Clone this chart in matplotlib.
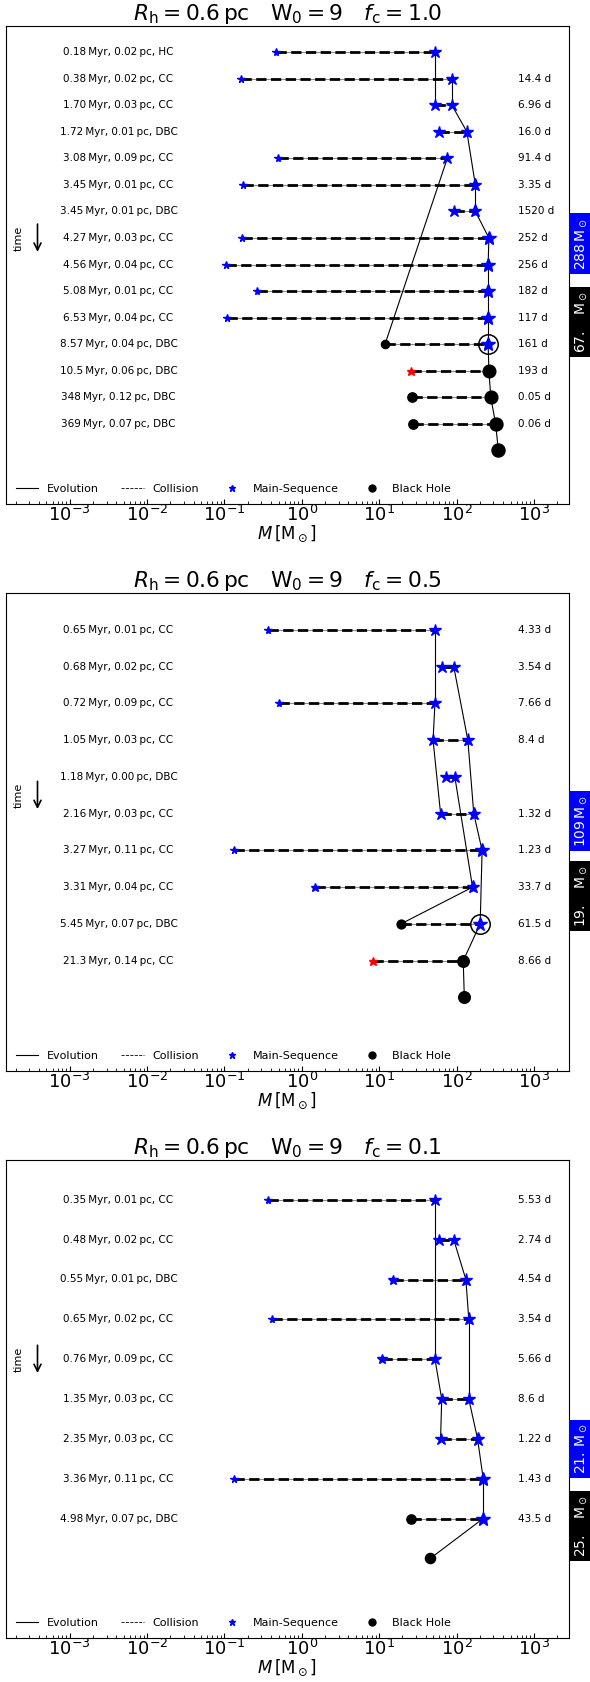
# collision histories of the most massive star, three f_c values
import numpy as np
import matplotlib.pyplot as plt
import matplotlib.transforms as mtransforms
from matplotlib.lines import Line2D

# ---------------- panel 1 : f_c = 1.0
fc1 = '1.0'
time1 = ['0.18', '0.38', '1.70', '1.72', '3.08', '3.45', '3.45', '4.27',
         '4.56', '5.08', '6.53', '8.57', '10.5', '348', '369']
dist1 = [0.02, 0.02, 0.03, 0.01, 0.09, 0.01, 0.01, 0.03, 0.04, 0.01, 0.04,
         0.04, 0.06, 0.12, 0.07]
kind1 = ['HC', 'CC', 'CC', 'DBC', 'CC', 'CC', 'DBC', 'CC', 'CC', 'CC', 'CC',
         'DBC', 'DBC', 'DBC', 'DBC']
period1 = ['', '14.4', '6.96', '16.0', '91.4', '3.35', '1520', '252', '256',
           '182', '117', '161', '193', '0.05', '0.06']
mass_a1 = [0.46, 0.163, 52.6, 58.8, 0.49, 0.172, 92, 0.169, 0.105, 0.263,
           0.107, 11.9, 25.4, 26.8, 27.7]
type_a1 = ['MS'] * 11 + ['BH', 'RS', 'BH', 'BH']
mass_b1 = [52.6, 87, 87, 136, 76, 175, 175, 262, 256, 256, 256, 256, 262,
           277, 320]
type_b1 = ['MS'] * 12 + ['BH', 'BH', 'BH']
final1 = 347
links1 = [((0, 1), (2, 0)), ((1, 1), (2, 1)), ((2, 1), (3, 1)), ((3, 1), (5, 1)),
          ((4, 1), (11, 0)), ((5, 1), (6, 1)), ((6, 1), (7, 1)), ((7, 1), (8, 1)),
          ((8, 1), (9, 1)), ((9, 1), (10, 1)), ((10, 1), (11, 1)),
          ((11, 1), (12, 1)), ((12, 1), (13, 1)), ((13, 1), (14, 1)),
          ((14, 1), (15, 1))]
circled1 = (11, 1)
box_ms1, box_bh1 = '288', '67.'

# ---------------- panel 2 : f_c = 0.5
fc2 = '0.5'
time2 = ['0.65', '0.68', '0.72', '1.05', '1.18', '2.16', '3.27', '3.31',
         '5.45', '21.3']
dist2 = [0.01, 0.02, 0.09, 0.03, 0.00, 0.03, 0.11, 0.04, 0.07, 0.14]
kind2 = ['CC', 'CC', 'CC', 'CC', 'DBC', 'CC', 'CC', 'CC', 'DBC', 'CC']
period2 = ['4.33', '3.54', '7.66', '8.4', '', '1.32', '1.23', '33.7', '61.5',
           '8.66']
mass_a2 = [0.369, 65.8, 0.5, 49.7, 73.6, 62.2, 0.133, 1.5, 19.1, 8.27]
type_a2 = ['MS'] * 8 + ['BH', 'RS']
mass_b2 = [52.6, 92, 52.6, 140, 95, 167, 214, 161, 202, 122]
type_b2 = ['MS'] * 9 + ['BH']
final2 = 126
links2 = [((0, 1), (2, 1)), ((2, 1), (3, 0)), ((3, 0), (5, 0)), ((1, 1), (3, 1)),
          ((3, 1), (5, 1)), ((5, 1), (6, 1)), ((4, 1), (7, 1)), ((6, 1), (8, 1)),
          ((7, 1), (8, 0)), ((8, 1), (9, 1)), ((9, 1), (10, 1))]
circled2 = (8, 1)
box_ms2, box_bh2 = '109', '19.'

# ---------------- panel 3 : f_c = 0.1
fc3 = '0.1'
time3 = ['0.35', '0.48', '0.55', '0.65', '0.76', '1.35', '2.35', '3.36', '4.98']
dist3 = [0.01, 0.02, 0.01, 0.02, 0.09, 0.03, 0.03, 0.11, 0.07]
kind3 = ['CC', 'CC', 'DBC', 'CC', 'CC', 'CC', 'CC', 'CC', 'DBC']
period3 = ['5.53', '2.74', '4.54', '3.54', '5.66', '8.6', '1.22', '1.43', '43.5']
mass_a3 = [0.369, 58.8, 15, 0.41, 10.9, 64.3, 62.2, 0.133, 25.4]
type_a3 = ['MS'] * 8 + ['BH']
mass_b3 = [52.6, 92, 132, 144, 52.6, 144, 187, 221, 221]
type_b3 = ['MS'] * 9
final3 = 45.9
links3 = [((0, 1), (4, 1)), ((4, 1), (5, 0)), ((5, 0), (6, 0)), ((1, 1), (2, 1)),
          ((2, 1), (3, 1)), ((3, 1), (5, 1)), ((5, 1), (6, 1)), ((6, 1), (7, 1)),
          ((7, 1), (8, 1)), ((8, 1), (9, 1))]
circled3 = None
box_ms3, box_bh3 = '21.', '25.'


def msize(m, t):
    if t == 'MS':
        return 5.5 + 1.9 * np.log10(1 + m)
    if t == 'BH':
        return 3.3 + 2.4 * np.log10(m)
    return 6.3


def mstyle(t):
    if t == 'MS':
        return dict(marker='*', color='b')
    if t == 'BH':
        return dict(marker='o', color='k')
    return dict(marker='*', color='r')


def panel(ax, fc, time, dist, kind, period, ma, ta, mb, tb, final, links,
          circled, box_ms, box_bh, box_y):
    n = len(time)
    pts = {}
    for i in range(n):
        pts[(i, 0)] = ma[i]
        pts[(i, 1)] = mb[i]
    pts[(n, 1)] = final

    # collisions
    for i in range(n):
        ax.plot([ma[i], mb[i]], [i, i], color='0.55', lw=0.8, zorder=1)
        ax.plot([ma[i], mb[i]], [i, i], color='k', lw=2, ls='--', zorder=1)
    # evolution
    for a, b in links:
        ax.plot([pts[a], pts[b]], [a[0], b[0]], color='k', lw=0.8, zorder=2)
    # stars / black holes
    for i in range(n):
        ax.plot(ma[i], i, ls='', ms=msize(ma[i], ta[i]), zorder=3, **mstyle(ta[i]))
        ax.plot(mb[i], i, ls='', ms=msize(mb[i], tb[i]), zorder=3, **mstyle(tb[i]))
    ax.plot(final, n, ls='', ms=msize(final, 'BH'), zorder=3, **mstyle('BH'))
    if circled is not None:
        ax.plot(pts[circled], circled[0], marker='o', ms=14, mfc='none',
                mec='k', mew=1.1, zorder=4)

    tr = ax.get_yaxis_transform()
    for i in range(n):
        ax.text(0.2, i, '%s\u2009Myr, %.2f\u2009pc, %s' % (time[i], dist[i], kind[i]),
                transform=tr, ha='center', va='center', fontsize=7.5)
        if period[i]:
            ax.text(0.911, i, period[i] + ' d', transform=tr, ha='left',
                    va='center', fontsize=7.5)
    yc = (n - 1) / 2
    ax.text(0.023, yc, 'time', transform=tr, rotation=90, ha='center',
            va='center', fontsize=8)
    tr_low = mtransforms.offset_copy(tr, fig=ax.figure, x=0, y=-10, units='points')
    ax.annotate('', xy=(0.056, yc), xycoords=tr_low, xytext=(0, 20),
                textcoords='offset points',
                arrowprops=dict(arrowstyle='->,head_width=0.25,head_length=0.5',
                                lw=1.2, color='k', shrinkA=0, shrinkB=0))

    ax.set_xscale('log')
    ax.set_xlim(1.5e-4, 2.8e3)
    ax.set_ylim(n + 2, -1)
    ax.set_yticks([])
    ax.tick_params(axis='x', which='both', direction='in', top=False,
                   labelsize=13, pad=1)
    ax.set_xlabel(r'$M\,[\mathrm{M}_\odot]$', fontsize=12, labelpad=-1)
    ax.set_title(r'$R_\mathrm{h} = 0.6\,\mathrm{pc} \quad \mathrm{W}_0 = 9'
                 r' \quad f_\mathrm{c} = %s$' % fc, fontsize=15.7, pad=3)

    handles = [Line2D([], [], color='k', lw=0.8),
               Line2D([], [], color='k', lw=0.6, ls='--'),
               Line2D([], [], color='b', marker='*', ls='', ms=5),
               Line2D([], [], color='k', marker='o', ls='', ms=5)]
    ax.legend(handles, ['Evolution', 'Collision', 'Main-Sequence', 'Black Hole'],
              loc='lower left', ncol=4, frameon=False, fontsize=8)

    ax.text(1.009, box_y[0], r'$%s\,\mathrm{M}_\odot$' % box_ms, transform=ax.transAxes,
            rotation=90, color='w', fontsize=10, ha='left', va='bottom',
            bbox=dict(facecolor='b', edgecolor='none', pad=3))
    ax.text(1.009, box_y[1], r'$%s\quad\mathrm{M}_\odot$' % box_bh,
            transform=ax.transAxes, rotation=90, color='w', fontsize=10,
            ha='left', va='top', bbox=dict(facecolor='k', edgecolor='none', pad=3))


fig = plt.figure(figsize=(5.9, 16.82), dpi=100)
W, H = 590.0, 1682.0
tops = [25.5, 593, 1160]
axes = [fig.add_axes([6 / W, 1 - (t + 478) / H, 562.5 / W, 478 / H]) for t in tops]

panel(axes[0], fc1, time1, dist1, kind1, period1, mass_a1, type_a1, mass_b1,
      type_b1, final1, links1, circled1, box_ms1, box_bh1, (0.4895, 0.4435))
panel(axes[1], fc2, time2, dist2, kind2, period2, mass_a2, type_a2, mass_b2,
      type_b2, final2, links2, circled2, box_ms2, box_bh2, (0.4686, 0.43))
panel(axes[2], fc3, time3, dist3, kind3, period3, mass_a3, type_a3, mass_b3,
      type_b3, final3, links3, circled3, box_ms3, box_bh3, (0.343, 0.299))

plt.savefig('out.png', dpi=100)
